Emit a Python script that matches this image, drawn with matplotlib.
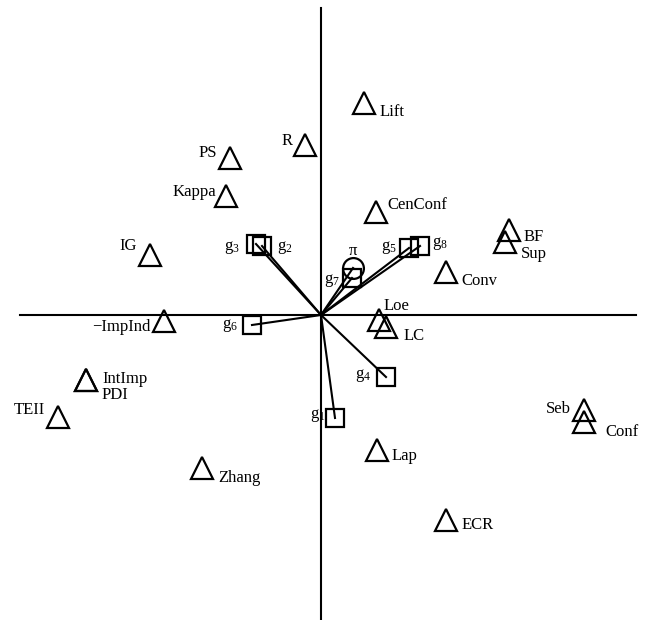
import matplotlib
matplotlib.use("Agg")
import matplotlib.pyplot as plt

plt.rcParams['font.family'] = ['Liberation Serif', 'DejaVu Serif']
plt.rcParams['mathtext.fontset'] = 'custom'
plt.rcParams['mathtext.rm'] = 'Liberation Serif'
plt.rcParams['mathtext.it'] = 'Liberation Serif'

# measures (triangles)
measures = ['Lift', 'R', 'PS', 'Kappa', 'CenConf', 'IG', 'BF', 'Sup', 'Conv',
            '\u2212ImpInd', 'Loe', 'LC', 'IntImp', 'PDI', 'TEII', 'Seb', 'Conf',
            'Lap', 'Zhang', 'ECR']
meas_x = [0.43, -0.16, -0.91, -0.95, 0.55, -1.71, 1.88, 1.84, 1.25,
          -1.57, 0.58, 0.65, -2.35, -2.35, -2.63, 2.63, 2.63,
          0.56, -1.19, 1.25]
meas_y = [2.12, 1.70, 1.57, 1.19, 1.03, 0.60, 0.85, 0.73, 0.43,
          -0.06, -0.05, -0.12, -0.65, -0.65, -1.02, -0.95, -1.07,
          -1.35, -1.53, -2.05]

# groups (squares)
groups = ['3', '2', '5', '8', '7', '6', '4', '1']
grp_x = [-0.65, -0.59, 0.88, 0.99, 0.31, -0.69, 0.65, 0.14]
grp_y = [0.71, 0.69, 0.67, 0.69, 0.37, -0.10, -0.62, -1.03]

# pi (circle)
pi_x, pi_y = 0.32, 0.47

# label offsets in pixels (dx, dy, ha); PDI shares IntImp's point and label block
meas_off = {
    'Lift': (16, -9, 'left'), 'R': (-12, 4, 'right'), 'PS': (-13, 5, 'right'),
    'Kappa': (-10, 4, 'right'), 'CenConf': (11, 7, 'left'), 'IG': (-13, 9, 'right'),
    'BF': (15, -7, 'left'), 'Sup': (16, -12, 'left'), 'Conv': (15, -9, 'left'),
    '\u2212ImpInd': (-13, -6, 'right'), 'Loe': (5, 14, 'left'), 'LC': (18, -9, 'left'),
    'IntImp': (16, -7, 'left'), 'TEII': (-13, 7, 'right'),
    'Seb': (-13, 1, 'right'), 'Conf': (21, -10, 'left'), 'Lap': (15, -6, 'left'),
    'Zhang': (16, -10, 'left'), 'ECR': (16, -5, 'left'),
}
stacked = {'IntImp': 'IntImp\nPDI'}
grp_off = {
    '3': (-16, -4, 'right'), '2': (15, -2, 'left'), '5': (-12, 0, 'right'),
    '8': (12, 2, 'left'), '7': (-12, -3, 'right'), '6': (-14, -1, 'right'),
    '4': (-15, 1, 'right'), '1': (-9, 2, 'right'),
}

fig = plt.figure(figsize=(6.5, 6.2), dpi=100)
ax = fig.add_axes([0, 0, 1, 1])
ax.set_xlim(-3.21, 3.29)
ax.set_ylim(-3.05, 3.15)
ax.axis('off')

# axes through origin
ax.plot([-3.01, 3.15], [0, 0], color='black', lw=1.5)
ax.plot([0, 0], [-3.05, 3.07], color='black', lw=1.5)

# vectors
for x, y in zip(grp_x + [pi_x], grp_y + [pi_y]):
    ax.plot([0, x], [0, y], color='black', lw=1.5)

ax.plot(meas_x, meas_y, linestyle='none', marker='^', markersize=16,
        markerfacecolor='none', markeredgecolor='black', markeredgewidth=1.6)
ax.plot(grp_x, grp_y, linestyle='none', marker='s', markersize=13,
        markerfacecolor='none', markeredgecolor='black', markeredgewidth=1.6)
ax.plot([pi_x], [pi_y], linestyle='none', marker='o', markersize=15,
        markerfacecolor='none', markeredgecolor='black', markeredgewidth=1.6)

fs = 12
for name, x, y in zip(measures, meas_x, meas_y):
    if name not in meas_off:
        continue
    dx, dy, ha = meas_off[name]
    ax.text(x + dx / 100, y + dy / 100, stacked.get(name, name), ha=ha,
            va='center', fontsize=fs, linespacing=0.95)
for g, x, y in zip(groups, grp_x, grp_y):
    dx, dy, ha = grp_off[g]
    ax.text(x + dx / 100, y + dy / 100, 'g$_{%s}$' % g, ha=ha, va='center', fontsize=fs)
ax.text(pi_x, pi_y + 0.17, '\u03c0', ha='center', va='center', fontsize=fs)

fig.savefig('out.png', dpi=100)
